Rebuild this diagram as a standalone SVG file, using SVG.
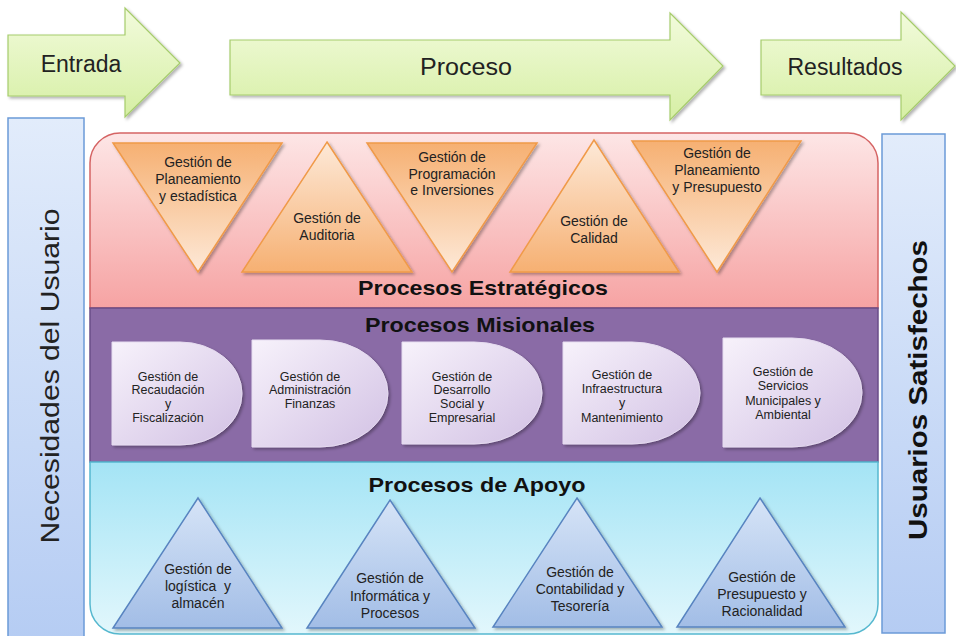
<svg xmlns="http://www.w3.org/2000/svg" width="956" height="636" viewBox="0 0 956 636">
<defs>
<linearGradient id="gGreen" x1="0" y1="0" x2="0" y2="1"><stop offset="0" stop-color="#f2fbdc"/><stop offset="1" stop-color="#d6efa4"/></linearGradient>
<linearGradient id="gSide" x1="0" y1="0" x2="0" y2="1"><stop offset="0" stop-color="#e2ecfb"/><stop offset="1" stop-color="#b5ccf3"/></linearGradient>
<linearGradient id="gRed" x1="0" y1="0" x2="0" y2="1"><stop offset="0" stop-color="#fde6e6"/><stop offset="1" stop-color="#f6a3a3"/></linearGradient>
<linearGradient id="gBlue" x1="0" y1="0" x2="0" y2="1"><stop offset="0" stop-color="#a4e4f5"/><stop offset="1" stop-color="#e2f7fc"/></linearGradient>
<linearGradient id="gOrDown" x1="0" y1="0" x2="0" y2="1"><stop offset="0" stop-color="#f6b072"/><stop offset="1" stop-color="#fde9d8"/></linearGradient>
<linearGradient id="gOrUp" x1="0" y1="0" x2="0" y2="1"><stop offset="0" stop-color="#fde9d8"/><stop offset="1" stop-color="#f6b072"/></linearGradient>
<linearGradient id="gTriB" x1="0" y1="0" x2="0" y2="1"><stop offset="0" stop-color="#d6e4f7"/><stop offset="1" stop-color="#a2bde6"/></linearGradient>
<linearGradient id="gLav" x1="0" y1="0" x2="1" y2="1"><stop offset="0" stop-color="#f7f2fb"/><stop offset="1" stop-color="#d2c1e4"/></linearGradient>
<filter id="sh" x="-10%" y="-10%" width="125%" height="125%"><feDropShadow dx="2" dy="2" stdDeviation="1.5" flood-color="#000" flood-opacity="0.3"/></filter>
</defs>
<style>
.arrow{fill:url(#gGreen);stroke:#a6cc6c;stroke-width:1.2}
.side{fill:url(#gSide);stroke:#6b9ad8;stroke-width:1.5}
.tdown{fill:url(#gOrDown);stroke:#f09a48;stroke-width:1.5}
.tup{fill:url(#gOrUp);stroke:#f09a48;stroke-width:1.5}
.tblue{fill:url(#gTriB);stroke:#5884c0;stroke-width:1.5}
.dshape{fill:url(#gLav);stroke:#e6dcf0;stroke-width:1}
text{font-family:"Liberation Sans",Arial,sans-serif;fill:#222}
.big{font-size:23px;text-anchor:middle}
.lbl{font-size:14px;text-anchor:middle}
.sm{font-size:12.5px;text-anchor:middle}
.title{font-size:21px;font-weight:bold;text-anchor:middle;fill:#111}
</style>

<g id="arrow-entrada"><path class="arrow" filter="url(#sh)" d="M8,35 H125 V8 L180,63 L125,117 V96 H8 Z"/><text class="big" x="81" y="72">Entrada</text></g>
<g id="arrow-proceso"><path class="arrow" filter="url(#sh)" d="M230,40 H670 V13 L723,66 L670,120 V95 H230 Z"/><text class="big" x="466" y="75" textLength="92" lengthAdjust="spacingAndGlyphs">Proceso</text></g>
<g id="arrow-resultados"><path class="arrow" filter="url(#sh)" d="M761,40 H901 V12 L955,66 L901,120 V95 H761 Z"/><text class="big" x="845" y="75" textLength="115" lengthAdjust="spacingAndGlyphs">Resultados</text></g>

<g id="necesidades"><rect class="side" x="8" y="118" width="76" height="525"/><text transform="translate(59,376) rotate(-90)" style="font-size:26px;text-anchor:middle" textLength="335" lengthAdjust="spacingAndGlyphs">Necesidades del Usuario</text></g>
<g id="satisfechos"><rect class="side" x="882" y="134" width="63" height="499"/><text transform="translate(927,390) rotate(-90)" style="font-size:25px;font-weight:bold;text-anchor:middle;fill:#111" textLength="300" lengthAdjust="spacingAndGlyphs">Usuarios Satisfechos</text></g>

<g id="estrategicos">
<path d="M90,308 V163 A30,30 0 0 1 120,133 H848 A30,30 0 0 1 878,163 V308 Z" fill="url(#gRed)" stroke="#d56464" stroke-width="1.5"/>
<text class="title" x="483" y="295" textLength="250" lengthAdjust="spacingAndGlyphs">Procesos Estratégicos</text>
</g>
<g id="misionales">
<rect x="90" y="308" width="788" height="154" fill="#8a6ba6" stroke="#6a4d88" stroke-width="1.5"/>
<text class="title" x="480" y="332" textLength="230" lengthAdjust="spacingAndGlyphs">Procesos Misionales</text>
</g>
<g id="apoyo">
<path d="M90,462 H878 V604 A30,30 0 0 1 848,634 H120 A30,30 0 0 1 90,604 Z" fill="url(#gBlue)" stroke="#56b8cf" stroke-width="1.5"/>
<text class="title" x="477" y="492" textLength="217" lengthAdjust="spacingAndGlyphs">Procesos de Apoyo</text>
</g>

<g id="e1"><path class="tdown" filter="url(#sh)" d="M113,143 H282 L198,272 Z"/><text class="lbl"><tspan x="198" y="167">Gestión de</tspan><tspan x="198" y="184">Planeamiento</tspan><tspan x="198" y="201">y estadística</tspan></text></g>
<g id="e2"><path class="tup" filter="url(#sh)" d="M327,142 L412,272 H242 Z"/><text class="lbl"><tspan x="327" y="223">Gestión de</tspan><tspan x="327" y="240">Auditoria</tspan></text></g>
<g id="e3"><path class="tdown" filter="url(#sh)" d="M367,143 H537 L452,272 Z"/><text class="lbl"><tspan x="452" y="162">Gestión de</tspan><tspan x="452" y="179">Programación</tspan><tspan x="452" y="195">e Inversiones</tspan></text></g>
<g id="e4"><path class="tup" filter="url(#sh)" d="M594,140 L679,272 H510 Z"/><text class="lbl"><tspan x="594" y="226">Gestión de</tspan><tspan x="594" y="243">Calidad</tspan></text></g>
<g id="e5"><path class="tdown" filter="url(#sh)" d="M632,141 H801 L717,272 Z"/><text class="lbl"><tspan x="717" y="158">Gestión de</tspan><tspan x="717" y="175">Planeamiento</tspan><tspan x="717" y="192">y Presupuesto</tspan></text></g>

<g id="m1"><path class="dshape" filter="url(#sh)" d="M112,342 H180 A62,51.5 0 0 1 180,445 H112 Z"/><text class="sm"><tspan x="168" y="381">Gestión de</tspan><tspan x="168" y="394">Recaudación</tspan><tspan x="168" y="408">y</tspan><tspan x="168" y="422">Fiscalización</tspan></text></g>
<g id="m2"><path class="dshape" filter="url(#sh)" d="M252,340 H320 A68,53.5 0 0 1 320,447 H252 Z"/><text class="sm"><tspan x="310" y="381">Gestión de</tspan><tspan x="310" y="394">Administración</tspan><tspan x="310" y="408">Finanzas</tspan></text></g>
<g id="m3"><path class="dshape" filter="url(#sh)" d="M402,342 H474 A68,51 0 0 1 474,444 H402 Z"/><text class="sm"><tspan x="462" y="381">Gestión de</tspan><tspan x="462" y="394">Desarrollo</tspan><tspan x="462" y="408">Social y</tspan><tspan x="462" y="422">Empresarial</tspan></text></g>
<g id="m4"><path class="dshape" filter="url(#sh)" d="M563,342 H632 A68,51 0 0 1 632,444 H563 Z"/><text class="sm"><tspan x="622" y="379">Gestión de</tspan><tspan x="622" y="393">Infraestructura</tspan><tspan x="622" y="407">y</tspan><tspan x="622" y="422">Mantenimiento</tspan></text></g>
<g id="m5"><path class="dshape" filter="url(#sh)" d="M723,338 H792 A70,54.5 0 0 1 792,447 H723 Z"/><text class="sm"><tspan x="783" y="376">Gestión de</tspan><tspan x="783" y="390">Servicios</tspan><tspan x="783" y="405">Municipales y</tspan><tspan x="783" y="419">Ambiental</tspan></text></g>

<g id="a1"><path class="tblue" filter="url(#sh)" d="M198,498 L282,628 H113 Z"/><text class="lbl"><tspan x="198" y="574">Gestión de</tspan><tspan x="198" y="591" xml:space="preserve">logística  y</tspan><tspan x="198" y="608">almacén</tspan></text></g>
<g id="a2"><path class="tblue" filter="url(#sh)" d="M390,500 L475,628 H307 Z"/><text class="lbl"><tspan x="390" y="583">Gestión de</tspan><tspan x="390" y="601">Informática y</tspan><tspan x="390" y="618">Procesos</tspan></text></g>
<g id="a3"><path class="tblue" filter="url(#sh)" d="M577,498 L662,627 H493 Z"/><text class="lbl"><tspan x="580" y="577">Gestión de</tspan><tspan x="580" y="594">Contabilidad y</tspan><tspan x="580" y="611">Tesorería</tspan></text></g>
<g id="a4"><path class="tblue" filter="url(#sh)" d="M760,498 L845,627 H677 Z"/><text class="lbl"><tspan x="762" y="582">Gestión de</tspan><tspan x="762" y="599">Presupuesto y</tspan><tspan x="762" y="616">Racionalidad</tspan></text></g>

<g id="connectors"/>
</svg>
